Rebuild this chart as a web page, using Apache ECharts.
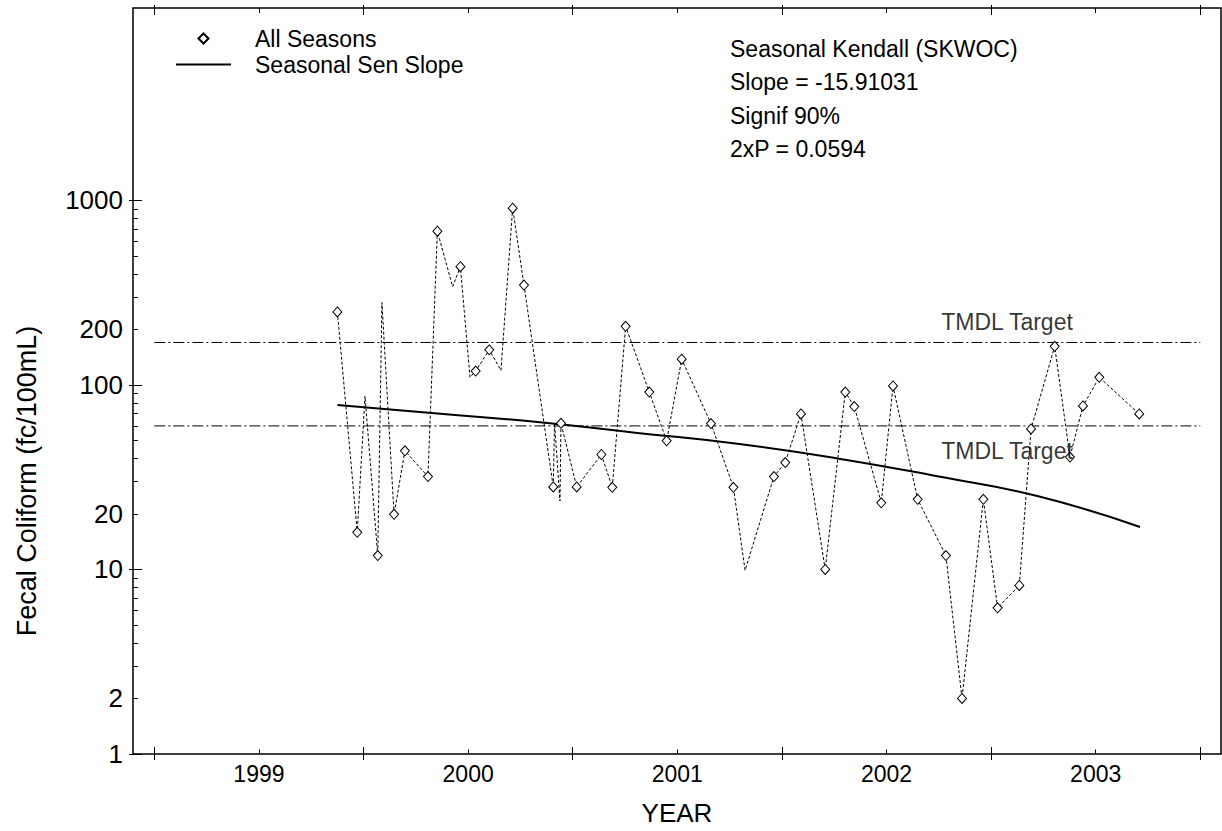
<!DOCTYPE html>
<html><head><meta charset="utf-8">
<script src="https://cdn.jsdelivr.net/npm/echarts@6/dist/echarts.min.js"></script>
<style>html,body{margin:0;padding:0;background:#fff}#chart{width:1222px;height:831px}</style>
</head><body><div id="chart"></div>
<script>
// ---- data ----
const sampleDates = [1999.875,1999.970,2000.007,2000.068,2000.088,2000.146,2000.198,2000.308,2000.353,2000.426,
  2000.463,2000.509,2000.536,2000.601,2000.657,2000.713,2000.767,2000.907,2000.913,2000.939,
  2000.944,2001.019,2001.137,2001.189,2001.253,2001.366,2001.449,2001.521,2001.661,2001.768,
  2001.824,2001.962,2002.016,2002.091,2002.207,2002.303,2002.346,2002.475,2002.531,2002.649,
  2002.784,2002.861,2002.963,2003.031,2003.135,2003.191,2003.304,2003.377,2003.439,2003.517,2003.708];
const coliform = [249,15.9,87,11.9,280,19.9,44,31.9,682,341,
  438,110,119,155,120,908,348,28,62,23.5,
  62,28,42,27.9,208,91.6,49.8,138,61.8,27.9,
  9.9,31.9,38,69.7,10,91.6,76.4,23,98.8,24,
  11.9,2.0,24,6.2,8.2,57.8,162,40.7,77,110,69.7];
const unmarkedIdx = [2,4,9,11,14,18,19,30];
const senDates = [1999.875,2000.353,2000.831,2001.309,2001.787,2002.265,2002.743,2003.221,2003.712];
const senValues = [78,70,63,55,48,40,32,25,17];
const tmdlTargets = [170, 60];
const tmdlRange = [1999, 2004];
const tmdlLabel = 'TMDL Target';
const xTickLabels = ['1999','2000','2001','2002','2003'];
const yTickLabels = ['1','2','10','20','100','200','1000'];
const statLines = ['Seasonal Kendall (SKWOC)','Slope = -15.91031','Signif 90%','2xP = 0.0594'];

// ---- chart ----
const FONT = '"Liberation Sans", Arial, Helvetica, sans-serif';
const X_MIN = 1998.898, X_MAX = 2004.099;
const Y_MIN = 1, Y_MAX = 11047;
const majorYears = [];
for (let y = 1999; y <= 2004; y++) majorYears.push(y);
const labelPos = xTickLabels.map(s => Number(s) + 0.5);
const decades = [1, 10, 100, 1000];
const minorY = [];
[1, 10, 100].forEach(d => { for (let m = 2; m <= 9; m++) minorY.push(d * m); });
const yLabelVals = yTickLabels.map(Number);

function xAx(pos, ticks, inside, len, extra) {
  return Object.assign({
    type: 'value', position: pos, min: X_MIN, max: X_MAX,
    axisLine: { show: false, onZero: false }, splitLine: { show: false },
    axisLabel: { show: false },
    axisTick: { show: true, inside: inside, length: len, customValues: ticks, lineStyle: { color: '#000', width: 1 } }
  }, extra || {});
}
function yAx(ticks, inside, len, extra) {
  return Object.assign({
    type: 'log', logBase: 10, position: 'left', min: Y_MIN, max: Y_MAX,
    axisLine: { show: false, onZero: false }, splitLine: { show: false }, minorTick: { show: false },
    axisLabel: { show: false },
    axisTick: { show: true, inside: inside, length: len, customValues: ticks, lineStyle: { color: '#000', width: 1 } }
  }, extra || {});
}

const marked = [];
sampleDates.forEach((d, i) => { if (unmarkedIdx.indexOf(i) < 0) marked.push([d, coliform[i]]); });

const chart = echarts.init(document.getElementById('chart'), null, { renderer: 'svg' });
chart.setOption({
  animation: false,
  backgroundColor: '#fff',
  textStyle: { fontFamily: FONT },
  grid: { left: 133, right: 1, top: 8, bottom: 75, show: true, borderColor: '#000', borderWidth: 1.5, backgroundColor: 'transparent' },
  title: {
    text: statLines.join('\n'), left: 730, top: 32, padding: 0,
    textStyle: { fontSize: 23, fontWeight: 'normal', color: '#000', lineHeight: 33.5, fontFamily: FONT }
  },
  legend: {
    orient: 'vertical', left: 176, top: 27, padding: 0, itemGap: 3, itemWidth: 55, itemHeight: 10,
    symbolKeepAspect: true, selectedMode: false,
    data: [
      { name: 'All Seasons', icon: 'path://M5 0L10 5L5 10L0 5Z' },
      { name: 'Seasonal Sen Slope', icon: 'path://M0 0H55V2H0Z', itemStyle: { borderWidth: 0 } }
    ],
    textStyle: { fontSize: 23, color: '#000', fontFamily: FONT, lineHeight: 23, padding: [0, 0, 0, 19] }
  },
  xAxis: [
    xAx('bottom', labelPos, true, 4.5, {
      name: 'YEAR', nameLocation: 'middle', nameGap: 46,
      nameTextStyle: { fontSize: 26, color: '#000', fontFamily: FONT },
      axisLabel: { show: true, customValues: labelPos, formatter: v => String(Math.floor(v)), fontSize: 23, color: '#000', margin: 8, fontFamily: FONT }
    }),
    xAx('bottom', majorYears, true, 7),
    xAx('bottom', majorYears, false, 6),
    xAx('top', majorYears, true, 7),
    xAx('top', majorYears, false, 3),
    xAx('top', labelPos, true, 5)
  ],
  yAxis: [
    yAx(decades, true, 9, {
      name: 'Fecal Coliform (fc/100mL)', nameLocation: 'middle', nameGap: 93, nameRotate: 90,
      nameTextStyle: { fontSize: 27, color: '#000', fontFamily: FONT, padding: [0, 200, 0, 0] },
      axisLabel: { show: true, customValues: yLabelVals, formatter: v => String(v), fontSize: 26, color: '#000', margin: 10, fontFamily: FONT }
    }),
    yAx(decades, false, 4),
    yAx(minorY, true, 5)
  ],
  series: [
    {
      name: 'All Seasons (path)', type: 'line', xAxisIndex: 0, yAxisIndex: 0,
      data: sampleDates.map((d, i) => [d, coliform[i]]),
      symbol: 'none', silent: true, z: 2,
      lineStyle: { type: [3, 2], width: 1, color: '#000' }
    },
    {
      name: 'All Seasons', type: 'scatter', xAxisIndex: 0, yAxisIndex: 0,
      data: marked, symbol: 'diamond', symbolSize: [9, 10], z: 5,
      itemStyle: { color: '#fff', borderColor: '#000', borderWidth: 1, opacity: 1 }
    },
    {
      name: 'Seasonal Sen Slope', type: 'line', xAxisIndex: 0, yAxisIndex: 0,
      data: senDates.map((d, i) => [d, senValues[i]]), smooth: true, symbol: 'none', z: 4,
      lineStyle: { color: '#000', width: 2 }, itemStyle: { color: '#000' }
    },
    {
      name: 'TMDL Target upper', type: 'line', xAxisIndex: 0, yAxisIndex: 0,
      data: tmdlRange.map(d => [d, tmdlTargets[0]]), symbol: 'none', silent: true, z: 3,
      lineStyle: { type: [11, 3, 2, 3], width: 1, color: '#000' }
    },
    {
      name: 'TMDL Target lower', type: 'line', xAxisIndex: 0, yAxisIndex: 0,
      data: tmdlRange.map(d => [d, tmdlTargets[1]]), symbol: 'none', silent: true, z: 3,
      lineStyle: { type: [11, 3, 2, 3], width: 1, color: '#000' }
    },
    {
      name: 'TMDL labels', type: 'scatter', xAxisIndex: 0, yAxisIndex: 0, symbolSize: 0, silent: true, z: 6,
      data: [
        { value: [2003.076, tmdlTargets[0]], label: { position: 'top', distance: 9 } },
        { value: [2003.076, tmdlTargets[1]], label: { position: 'bottom', distance: 14 } }
      ],
      label: { show: true, formatter: tmdlLabel, fontSize: 23, color: '#000', fontFamily: FONT }
    }
  ]
});
</script></body></html>
